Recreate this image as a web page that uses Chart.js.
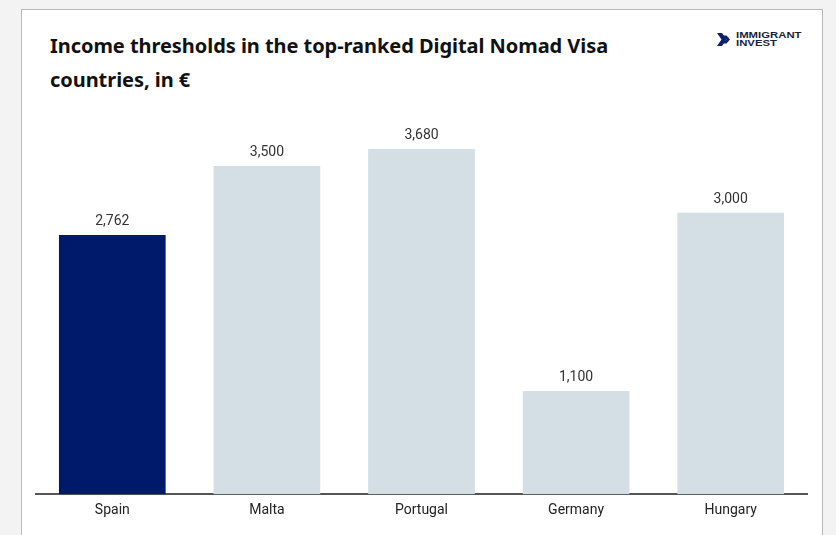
<!DOCTYPE html>
<html>
<head>
<meta charset="utf-8">
<script src="https://cdn.jsdelivr.net/npm/chart.js@4"></script>
<style>
  html, body { margin: 0; padding: 0; background: #f3f3f3; }
  body { width: 836px; height: 535px; position: relative; overflow: hidden; }
  .card {
    position: absolute; left: 21px; top: 9px; width: 800px; height: 560px;
    background: #fff; border: 1px solid #b8b8b8;
  }
  .title {
    position: absolute; left: 50px; top: 29px; width: 620px;
    font-family: "Noto Sans", sans-serif; font-weight: 700; font-size: 20px;
    line-height: 34px; color: #111; letter-spacing: -0.05px;
  }
  .logo { position: absolute; left: 717px; top: 32px; display: flex; align-items: center; }
  .logo span {
    font-family: "Liberation Sans", Arial, sans-serif; font-weight: 700; font-size: 9px;
    line-height: 7.5px; color: #1b1f3b; margin-left: 5px;
    transform: scale(1.26, 1); transform-origin: left center;
  }
  .chart-box { position: absolute; left: 35px; top: 100px; width: 773px; height: 427px; }
</style>
</head>
<body>
<div class="card"></div>
<div class="title">Income thresholds in the top-ranked Digital Nomad Visa<br>countries, in €</div>
<div class="logo">
  <svg width="14" height="15" viewBox="0 0 14 15">
    <polygon points="0,1 5,1 9.5,7.5 5,14 0,14 4.5,7.5" fill="#0c1f6e"/>
    <polygon points="6,3.5 9.5,3.5 13,7.5 9.5,11.5 6,11.5 9.5,7.5" fill="#0c1f6e"/>
  </svg>
  <span>IMMIGRANT<br>INVEST</span>
</div>
<div class="chart-box"><canvas id="chart"></canvas></div>
<script>
const countries = ["Spain", "Malta", "Portugal", "Germany", "Hungary"];
const thresholds = [2762, 3500, 3680, 1100, 3000];
const barColors = ["#001a6b", "#d3dee5", "#d3dee5", "#d3dee5", "#d3dee5"];

// draws the value above each bar
const valueLabels = {
  id: "valueLabels",
  afterDatasetsDraw(chart) {
    const ctx = chart.ctx;
    const meta = chart.getDatasetMeta(0);
    ctx.save();
    ctx.font = "14px Roboto, sans-serif";
    ctx.fillStyle = "#333";
    ctx.textAlign = "center";
    ctx.textBaseline = "alphabetic";
    meta.data.forEach((bar, i) => {
      ctx.fillText(thresholds[i].toLocaleString("en-US"), bar.x, bar.y - 10);
    });
    ctx.restore();
  }
};

new Chart(document.getElementById("chart"), {
  type: "bar",
  data: {
    labels: countries,
    datasets: [{
      data: thresholds,
      backgroundColor: barColors,
      borderWidth: 0,
      barPercentage: 0.69,
      categoryPercentage: 1
    }]
  },
  options: {
    responsive: true,
    maintainAspectRatio: false,
    animation: false,
    layout: { padding: { top: 19, left: 0, right: 0, bottom: 0 } },
    plugins: { legend: { display: false }, tooltip: { enabled: false } },
    scales: {
      x: {
        grid: { display: false, drawTicks: false },
        border: { display: true, color: "#555", width: 2 },
        ticks: { color: "#222", padding: 8, font: { family: "Roboto", size: 14 } }
      },
      y: {
        display: false,
        min: 0,
        max: 4000
      }
    }
  },
  plugins: [valueLabels]
});
</script>
</body>
</html>
